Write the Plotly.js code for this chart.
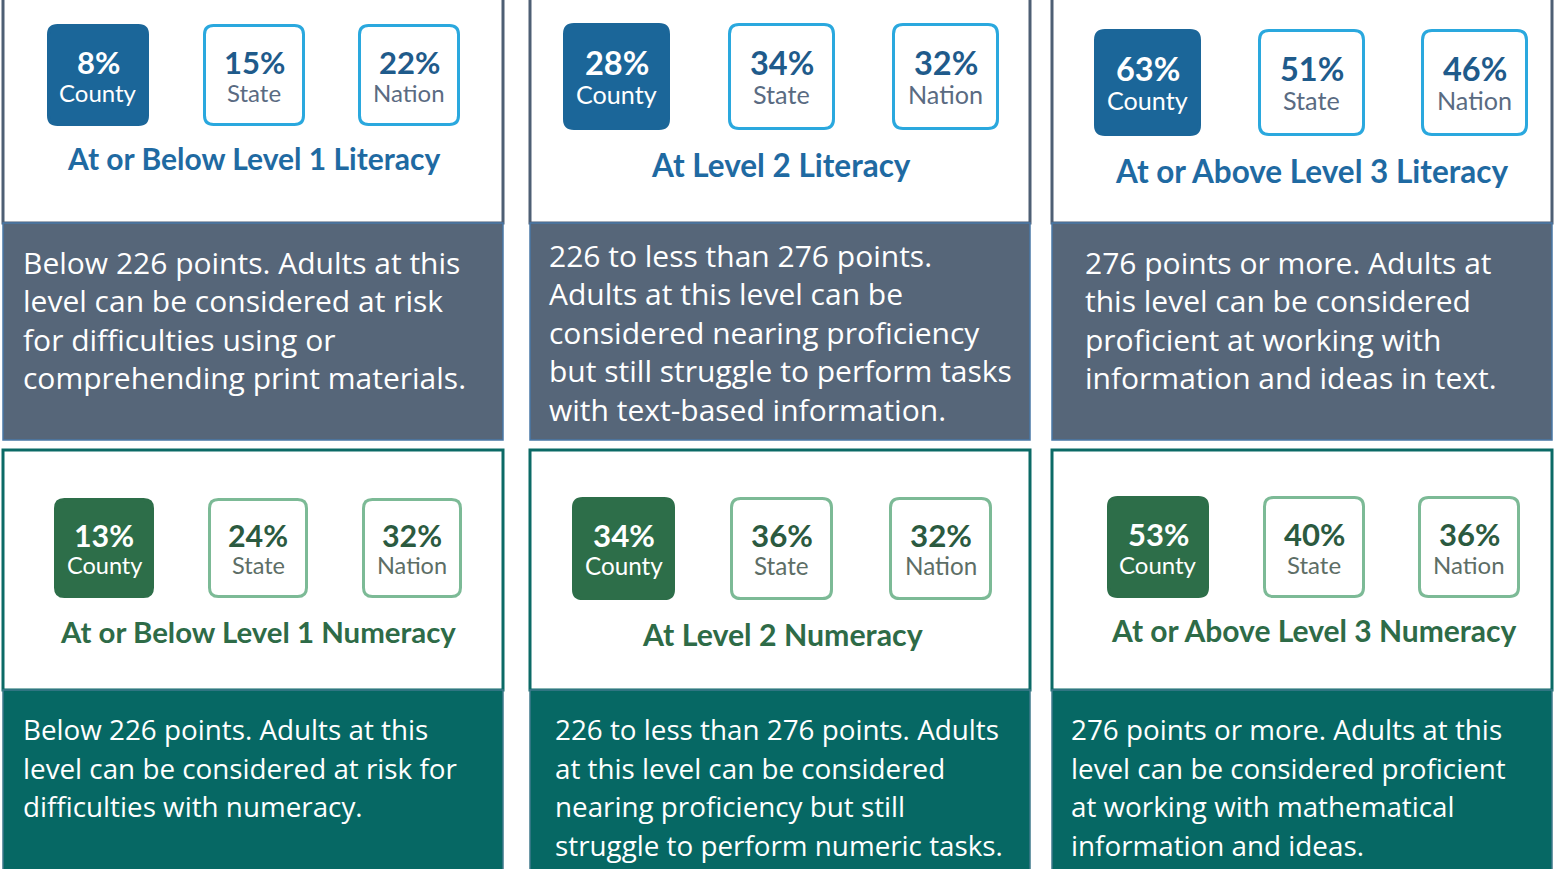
<!DOCTYPE html>
<html>
<head>
<meta charset="utf-8">
<script src="https://cdn.plot.ly/plotly-3.0.1.min.js"></script>
<style>html,body{margin:0;padding:0;background:#fff;}#chart{width:1557px;height:869px;}</style>
</head>
<body>
<div id="chart"></div>
<script>
// ---- data ----
const levels = ['At or Below Level 1', 'At Level 2', 'At or Above Level 3'];
const skills = ['Literacy', 'Numeracy'];
const groups = ['County', 'State', 'Nation'];
const literacyCounty = [8, 28, 63];
const literacyState = [15, 34, 51];
const literacyNation = [22, 32, 46];
const numeracyCounty = [13, 34, 53];
const numeracyState = [24, 36, 40];
const numeracyNation = [32, 32, 36];
const literacyText = [
  ['Below 226 points. Adults at this', 'level can be considered at risk', 'for difficulties using or', 'comprehending print materials.'],
  ['226 to less than 276 points.', 'Adults at this level can be', 'considered nearing proficiency', 'but still struggle to perform tasks', 'with text-based information.'],
  ['276 points or more. Adults at', 'this level can be considered', 'proficient at working with', 'information and ideas in text.']
];
const numeracyText = [
  ['Below 226 points. Adults at this', 'level can be considered at risk for', 'difficulties with numeracy.'],
  ['226 to less than 276 points. Adults', 'at this level can be considered', 'nearing proficiency but still', 'struggle to perform numeric tasks.'],
  ['276 points or more. Adults at this', 'level can be considered proficient', 'at working with mathematical', 'information and ideas.']
];

// ---- layout geometry ----
const W = 1557, H = 869;
const colX0 = [3, 530, 1052], colX1 = [503, 1030, 1552];
const rowGeom = [
  {white: [-5, 223], desc: [223, 440], descSize: 30},
  {white: [450, 690], desc: [690, 875], descSize: 27.8}
];
const panelGeom = [
  [
    {lefts: [47, 203, 358], top: 24, size: 102, titleY: 158, textX: 21, textY: 262},
    {lefts: [563, 728, 892], top: 23, size: 107, titleY: 165, textX: 547, textY: 255},
    {lefts: [1094, 1258, 1421], top: 29, size: 107, titleY: 171, textX: 1083, textY: 262}
  ],
  [
    {lefts: [54, 208, 362], top: 498, size: 100, titleY: 631, textX: 21, textY: 729},
    {lefts: [572, 730, 889], top: 497, size: 103, titleY: 634, textX: 553, textY: 729},
    {lefts: [1107, 1263, 1418], top: 496, size: 102, titleY: 630, textX: 1069, textY: 729}
  ]
];
const themes = [
  {fill: '#1b6699', border: '#2aa8de', pct: '#1f5b8b', label: '#5a6b82', title: '#1f6aa2', desc: '#566679', frame: '#4e5f74', descEdge: '#4a78a6'},
  {fill: '#2d6e49', border: '#7cba96', pct: '#2b5a40', label: '#5d6e66', title: '#2e6b47', desc: '#066864', frame: '#0b6a66', descEdge: '#3f7a8c'}
];
const lineH = 38.5;
const boxFont = 'Lato, "Open Sans", sans-serif';
const descFont = '"Open Sans", "Noto Sans", sans-serif';

const series = [
  [literacyCounty, literacyState, literacyNation],
  [numeracyCounty, numeracyState, numeracyNation]
];
const texts = [literacyText, numeracyText];

function roundRect(x0, y0, x1, y1, r) {
  return `M${x0 + r},${y0} L${x1 - r},${y0} Q${x1},${y0} ${x1},${y0 + r} L${x1},${y1 - r} Q${x1},${y1} ${x1 - r},${y1} L${x0 + r},${y1} Q${x0},${y1} ${x0},${y1 - r} L${x0},${y0 + r} Q${x0},${y0} ${x0 + r},${y0} Z`;
}

const shapes = [];
const annotations = [];

skills.forEach((skill, r) => {
  const th = themes[r];
  const rg = rowGeom[r];
  levels.forEach((lvl, c) => {
    const g = panelGeom[r][c];
    const x0 = colX0[c], x1 = colX1[c];
    shapes.push({type: 'rect', xref: 'x', yref: 'y', x0: x0, x1: x1, y0: rg.white[0], y1: rg.white[1],
      fillcolor: '#ffffff', line: {color: th.frame, width: 3}, layer: 'below'});
    shapes.push({type: 'rect', xref: 'x', yref: 'y', x0: x0, x1: x1, y0: rg.desc[0], y1: rg.desc[1],
      fillcolor: th.desc, line: {color: th.descEdge, width: 1.5}, layer: 'below'});
    const sc = g.size / 102;
    groups.forEach((grp, k) => {
      const bx0 = g.lefts[k], bx1 = bx0 + g.size, by0 = g.top, by1 = g.top + g.size;
      const filled = k === 0;
      shapes.push({type: 'path', xref: 'x', yref: 'y', path: roundRect(bx0 + 1.5, by0 + 1.5, bx1 - 1.5, by1 - 1.5, 9 * sc),
        fillcolor: filled ? th.fill : '#ffffff', line: {color: filled ? th.fill : th.border, width: 3}});
      const cx = (bx0 + bx1) / 2, cy = (by0 + by1) / 2;
      annotations.push({xref: 'x', yref: 'y', x: cx, y: cy - 13 * sc, text: series[r][k][c] + '%', showarrow: false,
        xanchor: 'center', yanchor: 'middle',
        font: {family: boxFont, size: 31 * sc, weight: 700, color: filled ? '#ffffff' : th.pct}});
      annotations.push({xref: 'x', yref: 'y', x: cx, y: cy + 17 * sc, text: grp, showarrow: false,
        xanchor: 'center', yanchor: 'middle',
        font: {family: boxFont, size: 24 * sc, weight: 400, color: filled ? '#ffffff' : th.label}});
    });
    const gc = (g.lefts[0] + g.lefts[2] + g.size) / 2;
    annotations.push({xref: 'x', yref: 'y', x: gc, y: g.titleY, text: lvl + ' ' + skill, showarrow: false,
      xanchor: 'center', yanchor: 'middle',
      font: {family: boxFont, size: 30 * sc, weight: 700, color: th.title}});
    texts[r][c].forEach((line, i) => {
      annotations.push({xref: 'x', yref: 'y', x: g.textX, y: g.textY + i * lineH, text: line, showarrow: false,
        xanchor: 'left', yanchor: 'middle',
        font: {family: descFont, size: rg.descSize, color: '#ffffff'}});
    });
  });
});

const data = [{type: 'scatter', x: [], y: [], mode: 'markers', hoverinfo: 'skip', showlegend: false}];
const layout = {
  width: W, height: H,
  margin: {l: 0, r: 0, t: 0, b: 0, pad: 0},
  paper_bgcolor: '#ffffff', plot_bgcolor: '#ffffff',
  xaxis: {range: [0, W], visible: false, fixedrange: true},
  yaxis: {range: [H, 0], visible: false, fixedrange: true},
  showlegend: false,
  shapes: shapes,
  annotations: annotations
};
Plotly.newPlot('chart', data, layout, {displayModeBar: false, staticPlot: true});
</script>
</body>
</html>
